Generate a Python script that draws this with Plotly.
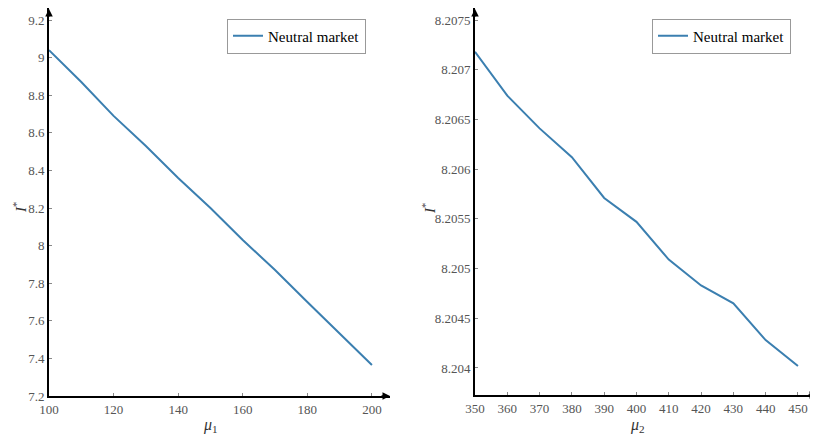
import plotly.graph_objects as go

# ---- data ----
mu1 = [100, 110, 120, 130, 140, 150, 160, 170, 180, 190, 200]
i_star_1 = [9.04, 8.87, 8.69, 8.53, 8.36, 8.20, 8.03, 7.87, 7.70, 7.53, 7.365]

mu2 = [350, 360, 370, 380, 390, 400, 410, 420, 430, 440, 450]
i_star_2 = [8.20718, 8.20674, 8.20641, 8.20612, 8.20571, 8.20547, 8.20509,
            8.20483, 8.20465, 8.20428, 8.20402]

series_name = "Neutral market"

x1_ticks = [100, 120, 140, 160, 180, 200]
y1_ticks = [7.2, 7.4, 7.6, 7.8, 8.0, 8.2, 8.4, 8.6, 8.8, 9.0, 9.2]
y1_labels = ["7.2", "7.4", "7.6", "7.8", "8", "8.2", "8.4", "8.6", "8.8", "9", "9.2"]

x2_ticks = [350, 360, 370, 380, 390, 400, 410, 420, 430, 440, 450]
y2_ticks = [8.204, 8.2045, 8.205, 8.2055, 8.206, 8.2065, 8.207, 8.2075]
y2_labels = ["8.204", "8.2045", "8.205", "8.2055", "8.206", "8.2065", "8.207", "8.2075"]

# page body has an 8px margin, so the figure is offset by 8px
OFF = 8
W, H = 818 - OFF, 434 - OFF
LINE_COLOR = "#3b7fb0"
FONT = "Liberation Serif"

def px_x(p):
    return (p - OFF) / W

def px_y(p):
    return 1 - (p - OFF) / H

fig = go.Figure()
fig.add_trace(go.Scatter(x=mu1, y=i_star_1, mode="lines", name=series_name,
                         line=dict(color=LINE_COLOR, width=2),
                         xaxis="x", yaxis="y", legend="legend"))
fig.add_trace(go.Scatter(x=mu2, y=i_star_2, mode="lines", name=series_name,
                         line=dict(color=LINE_COLOR, width=2),
                         xaxis="x2", yaxis="y2", legend="legend2"))

axis_common = dict(showgrid=False, zeroline=False, showline=True, automargin=False,
                   linecolor="black", linewidth=2, ticks="inside", ticklen=3,
                   tickcolor="#888", tickfont=dict(family=FONT, size=13, color="#555"))

# left panel: origin at (49, 396), arrow tips at x=390, y=8
fig.update_layout(
    xaxis=dict(domain=[px_x(49), px_x(390)], range=[100, 205.6],
               tickvals=x1_ticks, anchor="y", **axis_common),
    yaxis=dict(domain=[px_y(396), px_y(8)], range=[7.2, 9.264],
               tickvals=y1_ticks, ticktext=y1_labels, anchor="x", **axis_common),
    xaxis2=dict(domain=[px_x(475), px_x(817)], range=[350, 455.9],
                tickvals=x2_ticks, anchor="y2", **axis_common),
    yaxis2=dict(domain=[px_y(395), px_y(8)], range=[8.203728, 8.207621],
                tickvals=y2_ticks, ticktext=y2_labels, anchor="x2", **axis_common),
)

# axis titles as annotations
titles = [
    ("<i>μ</i><sub>1</sub>", 210, 425, 0, 16),
    ("<i>μ</i><sub>2</sub>", 637, 425, 0, 16),
    ("<i>I</i><sup>*</sup>", 20, 208, -90, 15),
    ("<i>I</i><sup>*</sup>", 429, 208, -90, 15),
]
for text, x, y, ang, size in titles:
    fig.add_annotation(x=px_x(x), y=px_y(y), xref="paper", yref="paper",
                       text=text, showarrow=False, textangle=ang,
                       xanchor="center", yanchor="middle",
                       font=dict(family=FONT, size=size, color="#333"))

legend_common = dict(bgcolor="white", bordercolor="#999", borderwidth=1,
                     font=dict(family=FONT, size=15, color="black"),
                     xanchor="left", yanchor="middle", tracegroupgap=0)
fig.update_layout(
    legend=dict(x=px_x(227), y=px_y(36), **legend_common),
    legend2=dict(x=px_x(652), y=px_y(36), **legend_common),
)

# arrowheads at axis ends (tip position, pixel offset of tail)
arrows = [
    (390, 396, -10, 0),
    (49, 8, 0, 10),
    (817, 395, -10, 0),
    (475, 8, 0, 10),
]
for x, y, ax, ay in arrows:
    fig.add_annotation(x=px_x(x), y=px_y(y), ax=ax, ay=ay,
                       xref="paper", yref="paper", axref="pixel", ayref="pixel",
                       text="", showarrow=True, arrowhead=2, arrowsize=1,
                       arrowwidth=1.5, arrowcolor="black")

fig.update_layout(width=W, height=H, margin=dict(l=0, r=0, t=0, b=0),
                  plot_bgcolor="white", paper_bgcolor="white", showlegend=True)

fig.write_html("out.html")
